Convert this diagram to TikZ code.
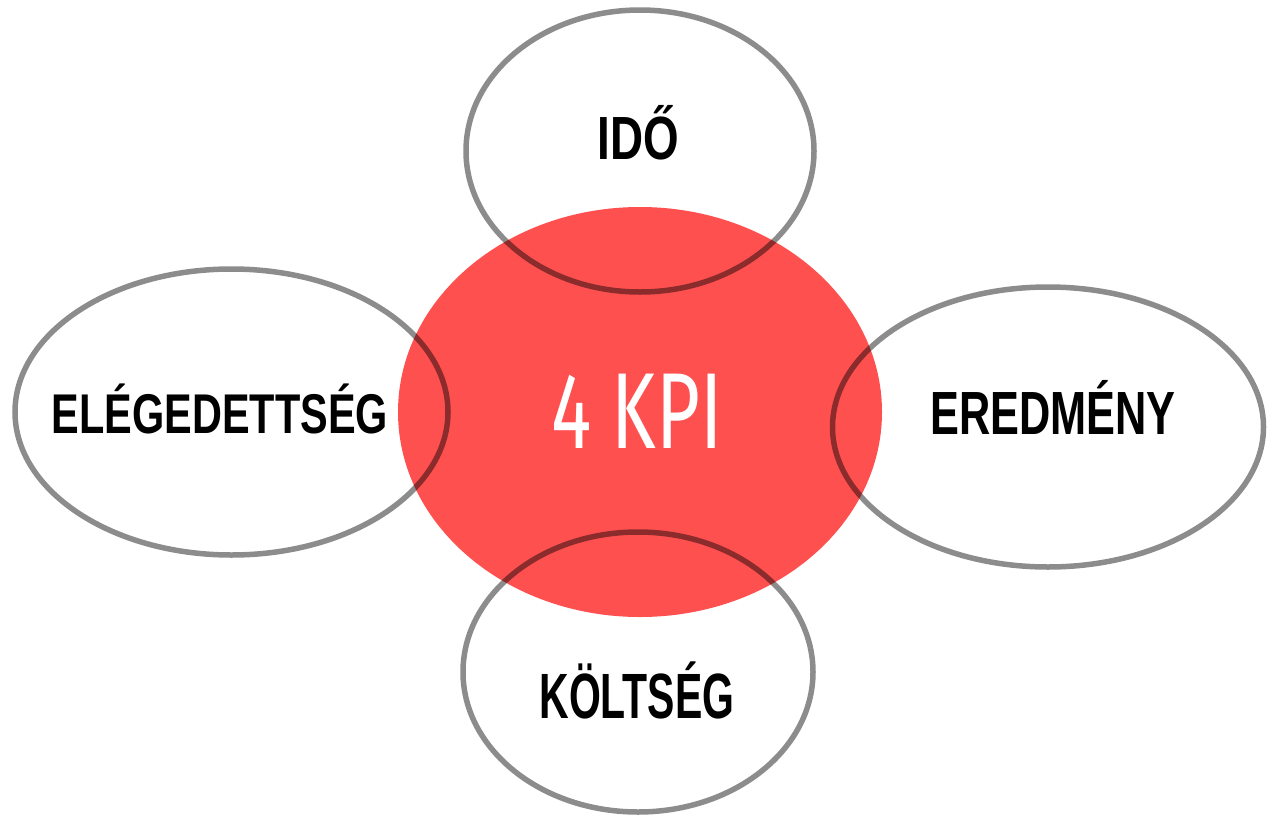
\documentclass[tikz,border=0pt]{standalone}
\usepackage{fontspec}
\setmainfont{Liberation Sans}
\newfontfamily\kpifont{Fira Sans}
\usetikzlibrary{shapes.geometric}
\definecolor{kpired}{RGB}{255,80,80}
\tikzset{
  hub/.style={ellipse, fill=kpired, draw=none, inner sep=0pt},
  petal/.style={ellipse, draw=black, draw opacity=0.45, line width=5.5pt, inner sep=0pt},
  lbl/.style={anchor=base, inner sep=0pt, text=black, font=\bfseries},
}
\newcommand{\cnd}[2]{\scalebox{#1}[1]{#2}}
\begin{document}
\begin{tikzpicture}[x=1pt,y=-1pt]
\useasboundingbox (0,0) rectangle (1269,817);
\node[hub, minimum width=484pt, minimum height=410pt] (kpi) at (640,412) {};
\node[petal, minimum width=348pt, minimum height=282pt] (ido) at (640,151) {};
\node[petal, minimum width=433pt, minimum height=286pt] (ele) at (231.5,412) {};
\node[petal, minimum width=431pt, minimum height=280pt] (ere) at (1048,427) {};
\node[petal, minimum width=350pt, minimum height=280pt] (kol) at (638,672) {};
\node[lbl, font=\bfseries\fontsize{61}{61}\selectfont] (tido) at (638,159) {\cnd{0.75}{IDŐ}};
\node[lbl, font=\bfseries\fontsize{56}{56}\selectfont] (tele) at (220,433) {\cnd{0.74}{ELÉGEDETTSÉG}};
\node[lbl, font=\bfseries\fontsize{61}{61}\selectfont] (tere) at (1053,434) {\cnd{0.71}{EREDMÉNY}};
\node[lbl, font=\bfseries\fontsize{64}{64}\selectfont] (tkol) at (637,718) {\cnd{0.64}{KÖLTSÉG}};
\node[anchor=base, inner sep=0pt, text=white, font=\kpifont\fontsize{108}{108}\selectfont] (tkpi) at (637,448) {\cnd{0.70}{4 KPI}};
\end{tikzpicture}
\end{document}
